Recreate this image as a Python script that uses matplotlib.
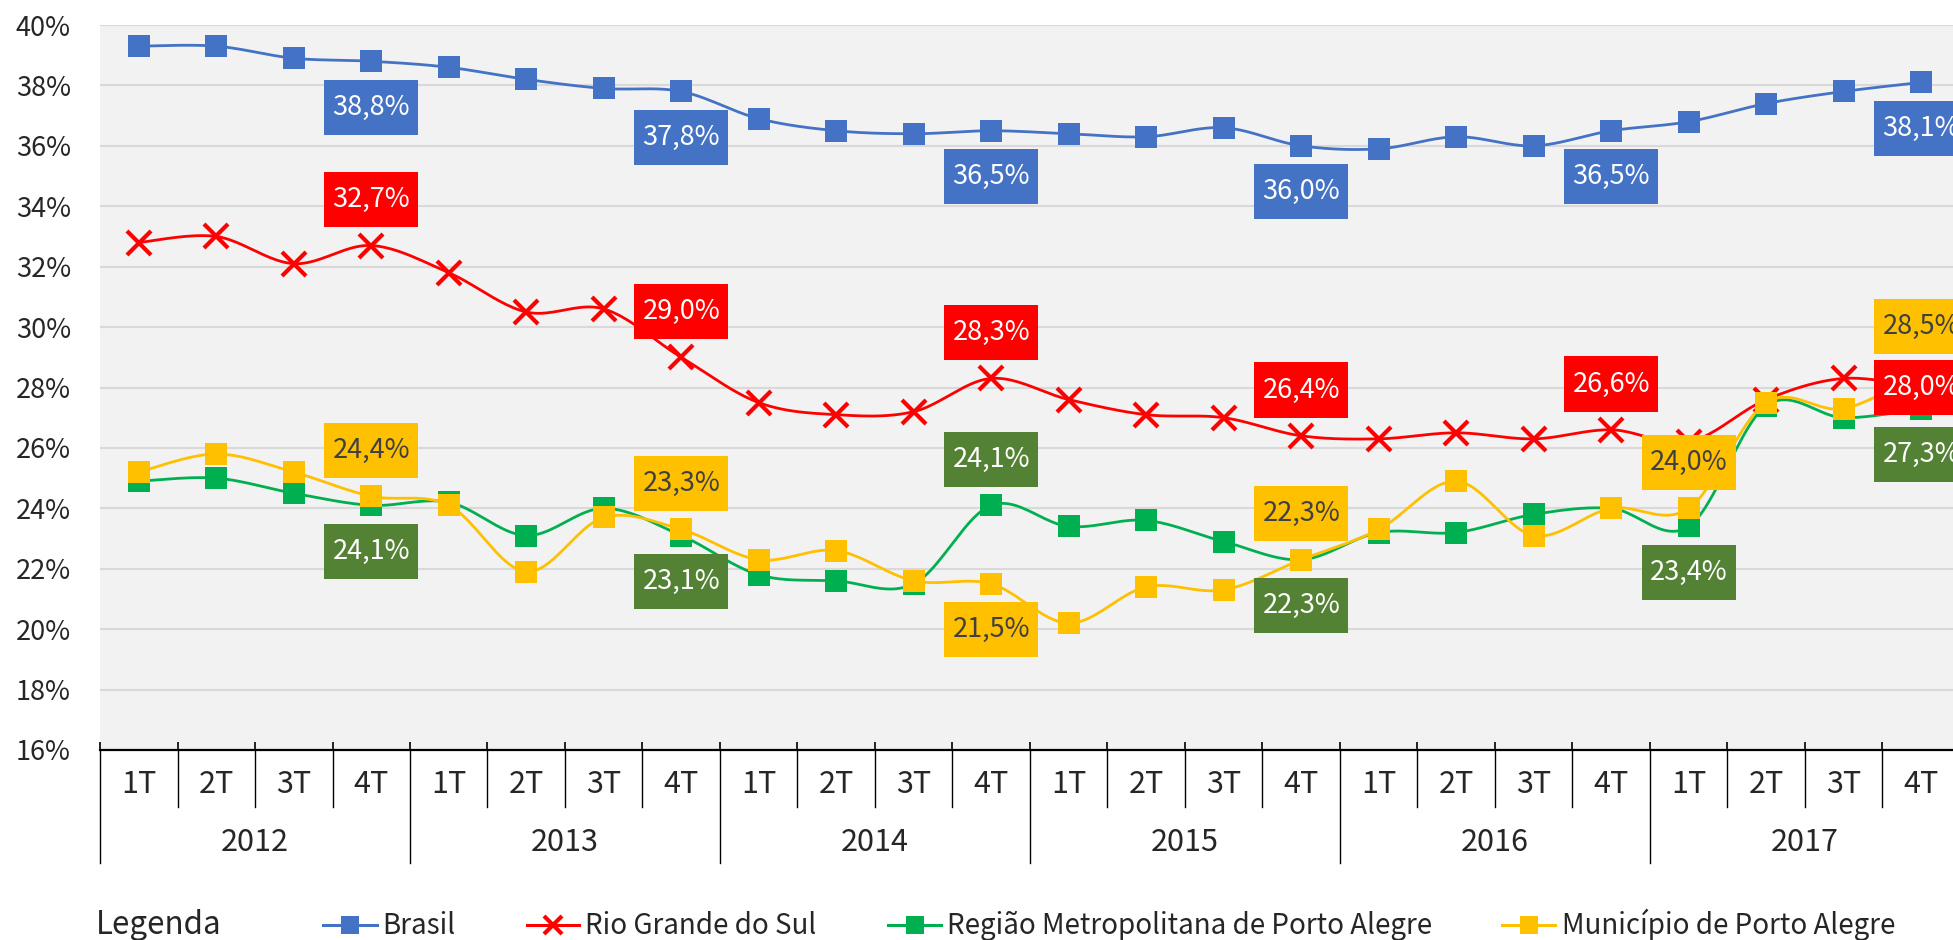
import matplotlib
matplotlib.use("Agg")
import matplotlib.pyplot as plt
from matplotlib.lines import Line2D
from matplotlib.path import Path
import matplotlib.transforms as mtransforms
import numpy as np

plt.rcParams['font.family'] = ['Noto Sans CJK JP', 'DejaVu Sans']

# ---- data ----
years = ["2012", "2013", "2014", "2015", "2016", "2017"]
quarters = ["1T", "2T", "3T", "4T"]

brasil = [39.3, 39.3, 38.9, 38.8, 38.6, 38.2, 37.9, 37.8, 36.9, 36.5, 36.4, 36.5,
          36.4, 36.3, 36.6, 36.0, 35.9, 36.3, 36.0, 36.5, 36.8, 37.4, 37.8, 38.1]
rs = [32.8, 33.0, 32.1, 32.7, 31.8, 30.5, 30.6, 29.0, 27.5, 27.1, 27.2, 28.3,
      27.6, 27.1, 27.0, 26.4, 26.3, 26.5, 26.3, 26.6, 26.2, 27.6, 28.3, 28.0]
rmpa = [24.9, 25.0, 24.5, 24.1, 24.2, 23.1, 24.0, 23.1, 21.8, 21.6, 21.5, 24.1,
        23.4, 23.6, 22.9, 22.3, 23.2, 23.2, 23.8, 24.0, 23.4, 27.4, 27.0, 27.3]
poa = [25.2, 25.8, 25.2, 24.4, 24.1, 21.9, 23.7, 23.3, 22.3, 22.6, 21.6, 21.5,
       20.2, 21.4, 21.3, 22.3, 23.3, 24.9, 23.1, 24.0, 24.0, 27.5, 27.3, 28.5]

names = ["Brasil", "Rio Grande do Sul", "Região Metropolitana de Porto Alegre",
         "Município de Porto Alegre"]

# which points get a data label and where (above / below / center)
labels_brasil = [(3, "below"), (7, "below"), (11, "below"), (15, "below"), (19, "below"), (23, "below")]
labels_rs = [(3, "above"), (7, "above"), (11, "above"), (15, "above"), (19, "above"), (23, "center")]
labels_rmpa = [(3, "below"), (7, "below"), (11, "above"), (15, "below"), (20, "below"), (23, "below")]
labels_poa = [(3, "above"), (7, "above"), (11, "below"), (15, "above"), (20, "above"), (23, "above")]


def smooth(y, n=24):
    # Catmull-Rom style curve like Excel's "smoothed line"
    y = np.asarray(y, float)
    x = np.arange(len(y), dtype=float)
    px = np.concatenate([[x[0]], x, [x[-1]]])
    py = np.concatenate([[y[0]], y, [y[-1]]])
    t = np.linspace(0, 1, n)
    h00 = 2 * t**3 - 3 * t**2 + 1
    h10 = t**3 - 2 * t**2 + t
    h01 = -2 * t**3 + 3 * t**2
    h11 = t**3 - t**2
    xs, ys = [], []
    for i in range(1, len(px) - 2):
        for p, out in ((px, xs), (py, ys)):
            m1 = (p[i + 1] - p[i - 1]) / 2
            m2 = (p[i + 2] - p[i]) / 2
            out.append(h00 * p[i] + h10 * m1 + h01 * p[i + 1] + h11 * m2)
    return np.concatenate(xs), np.concatenate(ys)


def label_box(x0, y0, width, height, mutation_size):
    # square box, more padding top/bottom than left/right
    px = 0.30 * mutation_size
    py = 0.52 * mutation_size
    x0, y0 = x0 - px, y0 - py
    x1, y1 = x0 + width + 2 * px, y0 + height + 2 * py
    return Path([(x0, y0), (x1, y0), (x1, y1), (x0, y1), (x0, y0)], closed=True)


fig = plt.figure(figsize=(19.53, 9.40), dpi=100)
ax = fig.add_axes([100 / 1953, 190 / 940, 1860 / 1953, 725 / 940])
ax.set_facecolor("#F2F2F2")

x = np.arange(len(brasil))
series = [
    (brasil, "#4472C4", "s", "#4472C4", "white", labels_brasil),
    (rs, "#FF0000", "x", "#FF0000", "white", labels_rs),
    (rmpa, "#00B050", "s", "#548235", "white", labels_rmpa),
    (poa, "#FFC000", "s", "#FFC000", "#404040", labels_poa),
]

for k, (vals, col, mk, boxcol, txtcol, labs) in enumerate(series):
    sx, sy = smooth(vals)
    ax.plot(sx, sy, color=col, lw=2.0, zorder=3 + k, solid_capstyle="round")
    if mk == "x":
        ax.plot(x, vals, ls="none", marker="x", ms=17, mew=3, color=col, zorder=3 + k)
    else:
        ax.plot(x, vals, ls="none", marker="s", ms=16.5, mew=0, color=col, zorder=3 + k)
    for idx, pos in labs:
        dy = {"above": 33, "below": -33, "center": 0}[pos]
        ax.annotate(f"{vals[idx]:.1f}%".replace(".", ","), (x[idx], vals[idx]),
                    xytext=(0, dy), textcoords="offset points",
                    ha="center", va="center", fontsize=19.5, color=txtcol,
                    bbox=dict(boxstyle=label_box, fc=boxcol, ec="none"),
                    zorder=20, annotation_clip=False)

ax.set_xlim(-0.5, 23.5)
ax.set_ylim(16, 40)
ax.set_yticks(np.arange(16, 41, 2))
ax.set_yticklabels([f"{v}%" for v in range(16, 41, 2)], fontsize=19.5, color="#262626")
ax.tick_params(axis="y", length=0, pad=21)
ax.grid(axis="y", color="#D9D9D9", lw=1.5)
ax.set_axisbelow(True)
for s in ("left", "right", "top"):
    ax.spines[s].set_visible(False)
ax.spines["bottom"].set_color("black")
ax.spines["bottom"].set_linewidth(1.6)

ax.set_xticks(np.arange(-0.5, 24, 1))
ax.set_xticklabels([])
ax.tick_params(axis="x", direction="in", length=6, width=1.2, color="black")

# multi-level category axis
trans = mtransforms.blended_transform_factory(ax.transData, ax.transAxes)
for b in np.arange(-0.5, 24, 1):
    low = -0.156 if (b + 0.5) % 4 == 0 else -0.079
    ax.plot([b, b], [0, low], transform=trans, color="black", lw=1.0, clip_on=False)
for i in range(len(brasil)):
    ax.text(i, -0.047, quarters[i % 4], transform=trans, ha="center", va="center",
            fontsize=22, color="#262626")
for j, yr in enumerate(years):
    ax.text(4 * j + 1.5, -0.128, yr, transform=trans, ha="center", va="center",
            fontsize=22, color="#262626")

# legend row
W, H = 1953, 940
base = (H - 934) / H
fig.text(96 / W, base, "Legenda", fontsize=22.5, color="#262626", va="baseline")
leg = [(323, 377, 382, "#4472C4", "s"), (527, 579, 585, "#FF0000", "x"),
       (888, 941, 947, "#00B050", "s"), (1502, 1555, 1562, "#FFC000", "s")]
ym = (H - 925) / H
for (x0, x1, xt, col, mk), name in zip(leg, names):
    fig.add_artist(Line2D([x0 / W, x1 / W], [ym, ym], color=col, lw=2.2))
    if mk == "x":
        fig.add_artist(Line2D([(x0 + x1) / 2 / W], [ym], marker="x", ms=13, mew=3, color=col))
    else:
        fig.add_artist(Line2D([(x0 + x1) / 2 / W], [ym], marker="s", ms=12.5, mew=0, color=col))
    fig.text(xt / W, base, name, fontsize=20, color="#262626", va="baseline")

fig.savefig("out.png", dpi=100)
